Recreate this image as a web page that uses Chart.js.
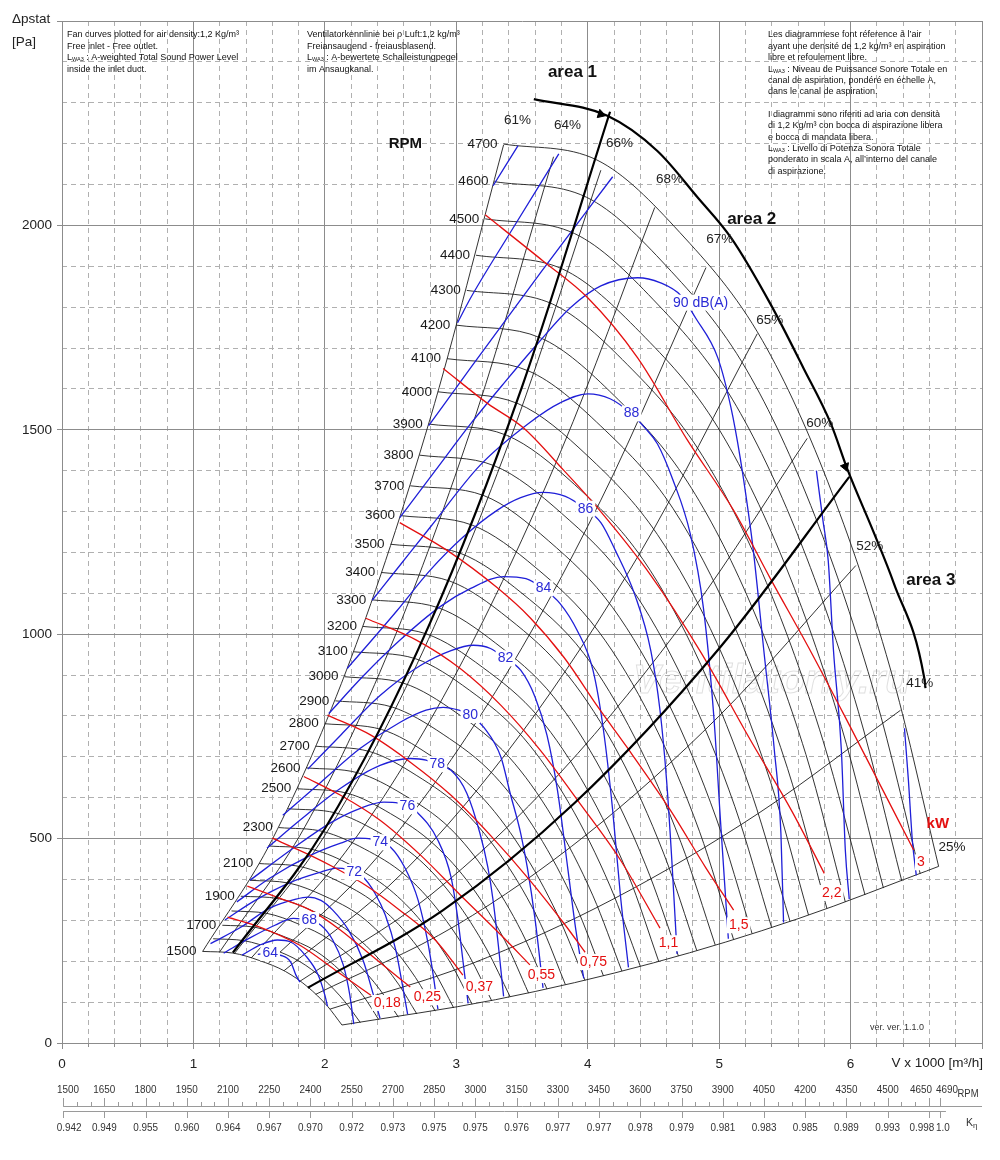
<!DOCTYPE html>
<html><head><meta charset="utf-8">
<script src="https://cdn.jsdelivr.net/npm/chart.js@4.4.1/dist/chart.umd.min.js"></script>
<style>html,body{margin:0;padding:0;background:#fff}canvas{display:block}</style>
</head><body>
<canvas id="c" width="1000" height="1160"></canvas>
<script>
// ---------- axis ticks ----------
const xTicks = [0,1,2,3,4,5,6,7];
const xTickLabels = ['0','1','2','3','4','5','6',''];
const yTicks = [0,500,1000,1500,2000,2500];
const yTickLabels = ['0','500','1000','1500','2000',''];
const rpmTicks = [1500,1650,1800,1950,2100,2250,2400,2550,2700,2850,3000,3150,3300,3450,3600,3750,3900,4050,4200,4350,4500,4650,4690];
const ketaLabels = ['0.942','0.949','0.955','0.960','0.964','0.967','0.970','0.972','0.973','0.975','0.975','0.976','0.977','0.977','0.978','0.979','0.981','0.983','0.985','0.989','0.993','0.998','1.0'];

// ---------- fan curves (V x1000 m3/h, Pa) ----------
const fan1500 = [[1.07,224],[1.30,220],[1.50,202],[1.70,175],[1.87,137],[2.02,90],[2.13,44]];
const fan1600 = [[1.15,255],[1.39,250],[1.60,230],[1.81,199],[1.99,156],[2.15,102],[2.27,50]];
const fan1700 = [[1.22,288],[1.47,283],[1.70,259],[1.93,225],[2.12,176],[2.29,116],[2.41,57]];
const fan1800 = [[1.29,323],[1.56,317],[1.80,291],[2.04,252],[2.24,197],[2.42,130],[2.56,63]];
const fan1900 = [[1.36,359],[1.65,353],[1.90,324],[2.15,281],[2.37,220],[2.56,144],[2.70,71]];
const fan2000 = [[1.43,398],[1.73,391],[2.00,359],[2.27,311],[2.49,244],[2.69,160],[2.84,78]];
const fan2100 = [[1.50,439],[1.82,431],[2.10,396],[2.38,343],[2.62,269],[2.83,176],[2.98,86]];
const fan2200 = [[1.57,482],[1.91,473],[2.20,435],[2.49,376],[2.74,295],[2.96,194],[3.12,95]];
const fan2300 = [[1.65,527],[1.99,517],[2.30,475],[2.61,411],[2.87,322],[3.10,212],[3.27,103]];
const fan2400 = [[1.72,573],[2.08,563],[2.40,517],[2.72,448],[2.99,351],[3.23,230],[3.41,113]];
const fan2500 = [[1.79,622],[2.17,611],[2.50,561],[2.83,486],[3.12,381],[3.37,250],[3.55,122]];
const fan2600 = [[1.86,673],[2.25,661],[2.60,607],[2.95,526],[3.24,412],[3.50,270],[3.69,132]];
const fan2700 = [[1.93,726],[2.34,713],[2.70,654],[3.06,567],[3.37,444],[3.64,292],[3.83,143]];
const fan2800 = [[2.00,781],[2.43,767],[2.80,704],[3.17,610],[3.49,477],[3.77,314],[3.98,153]];
const fan2900 = [[2.08,837],[2.51,822],[2.90,755],[3.29,654],[3.62,512],[3.91,336],[4.12,164]];
const fan3000 = [[2.15,896],[2.60,880],[3.00,808],[3.40,700],[3.74,548],[4.04,360],[4.26,176]];
const fan3100 = [[2.22,957],[2.69,940],[3.10,863],[3.51,747],[3.86,585],[4.17,384],[4.40,188]];
const fan3200 = [[2.29,1019],[2.77,1001],[3.20,919],[3.63,796],[3.99,624],[4.31,410],[4.54,200]];
const fan3300 = [[2.36,1084],[2.86,1065],[3.30,978],[3.74,847],[4.11,663],[4.44,436],[4.69,213]];
const fan3400 = [[2.43,1151],[2.95,1130],[3.40,1038],[3.85,899],[4.24,704],[4.58,462],[4.83,226]];
const fan3500 = [[2.50,1220],[3.03,1198],[3.50,1100],[3.97,953],[4.36,746],[4.71,490],[4.97,240]];
const fan3600 = [[2.58,1290],[3.12,1267],[3.60,1164],[4.08,1008],[4.49,789],[4.85,518],[5.11,253]];
const fan3700 = [[2.65,1363],[3.21,1339],[3.70,1229],[4.19,1065],[4.61,834],[4.98,548],[5.25,268]];
const fan3800 = [[2.72,1438],[3.29,1412],[3.80,1296],[4.31,1123],[4.74,879],[5.12,578],[5.40,282]];
const fan3900 = [[2.79,1514],[3.38,1487],[3.90,1366],[4.42,1183],[4.86,926],[5.25,608],[5.54,297]];
const fan4000 = [[2.86,1593],[3.47,1564],[4.00,1436],[4.53,1244],[4.99,974],[5.39,640],[5.68,313]];
const fan4100 = [[2.93,1674],[3.55,1644],[4.10,1509],[4.65,1307],[5.11,1024],[5.52,672],[5.82,329]];
const fan4200 = [[3.00,1756],[3.64,1725],[4.20,1584],[4.76,1372],[5.24,1074],[5.66,706],[5.96,345]];
const fan4300 = [[3.08,1841],[3.73,1808],[4.30,1660],[4.87,1438],[5.36,1126],[5.79,740],[6.11,362]];
const fan4400 = [[3.15,1927],[3.81,1893],[4.40,1738],[4.99,1506],[5.49,1179],[5.93,774],[6.25,379]];
const fan4500 = [[3.22,2016],[3.90,1980],[4.50,1818],[5.10,1575],[5.61,1233],[6.06,810],[6.39,396]];
const fan4600 = [[3.29,2107],[3.99,2069],[4.60,1900],[5.21,1646],[5.73,1288],[6.19,846],[6.53,414]];
const fan4700 = [[3.36,2199],[4.07,2160],[4.70,1983],[5.33,1718],[5.86,1345],[6.33,884],[6.67,432]];
const rpmValues = [1500,1600,1700,1800,1900,2000,2100,2200,2300,2400,2500,2600,2700,2800,2900,3000,3100,3200,3300,3400,3500,3600,3700,3800,3900,4000,4100,4200,4300,4400,4500,4600,4700];
const fanCurves = [fan1500,fan1600,fan1700,fan1800,fan1900,fan2000,fan2100,fan2200,fan2300,fan2400,fan2500,fan2600,fan2700,fan2800,fan2900,fan3000,fan3100,fan3200,fan3300,fan3400,fan3500,fan3600,fan3700,fan3800,fan3900,fan4000,fan4100,fan4200,fan4300,fan4400,fan4500,fan4600,fan4700];
const rpmLabelValues = [1500,1700,1900,2100,2300,2500,2600,2700,2800,2900,3000,3100,3200,3300,3400,3500,3600,3700,3800,3900,4000,4100,4200,4300,4400,4500,4600,4700];

// ---------- efficiency lines (left edge = 61 %, lower edge = 25 %) ----------
const eff61 = [[1.07,224],[1.60,498],[2.20,942],[2.80,1526],[3.36,2197]];
const eff64 = [[1.20,223],[1.85,530],[2.50,969],[3.15,1538],[3.74,2168]];
const eff66 = [[1.31,218],[2.00,508],[2.70,926],[3.40,1468],[4.10,2135]];
const eff68 = [[1.44,208],[2.20,486],[3.00,905],[3.80,1451],[4.51,2044]];
const eff67 = [[1.57,195],[2.40,455],[3.30,860],[4.10,1328],[4.90,1897]];
const eff65 = [[1.69,177],[2.60,419],[3.50,760],[4.40,1200],[5.29,1735]];
const eff60 = [[1.81,151],[2.80,361],[3.80,664],[4.80,1060],[5.67,1479]];
const eff52 = [[1.93,119],[3.00,288],[4.00,512],[5.00,800],[6.04,1168]];
const eff41 = [[2.04,83],[3.10,192],[4.20,353],[5.30,562],[6.38,814]];
const eff25 = [[2.13,44],[3.30,106],[4.50,196],[5.60,304],[6.67,432]];
const effLines = [eff61,eff64,eff66,eff68,eff67,eff65,eff60,eff52,eff41,eff25];
const effLabels = ['61%','64%','66%','68%','67%','65%','60%','52%','41%','25%'];
const effLabelAt = [[3.465,2256],[3.846,2246],[4.242,2202],[4.623,2114],[5.004,1967],[5.385,1767],[5.766,1515],[6.146,1215],[6.527,880],[6.771,479]];

// ---------- working areas ----------
const area12 = [[1.30,221],[2.00,524],[2.80,1027],[3.50,1605],[4.17,2278]];
const area23 = [[1.87,135],[2.90,325],[3.90,587],[5.00,965],[5.99,1385]];
const areaArc = [[3.59,2309],[4.15,2268],[4.53,2182],[4.84,2067],[5.09,1970],[5.39,1808],[5.64,1652],[5.85,1515],[5.98,1400],[6.18,1246],[6.33,1124],[6.56,894],[6.57,868]];
const arrowPts = [[4.10,2272],[5.96,1410]];
const arrowRot = [107,159];
const areaLabels = ['area 1','area 2','area 3'];
const areaLabelAt = [[3.884,2375],[5.248,2016],[6.611,1131]];

// ---------- sound power dB(A) ----------
const db64 = [[1.49,217],[1.58,220],[1.66,215],[1.74,198],[1.78,166],[1.81,149]];
const db66 = [[1.37,215],[1.51,240],[1.64,252],[1.74,247],[1.85,215],[1.95,166],[2.00,117],[2.02,90]];
const db68 = [[1.23,220],[1.43,257],[1.62,288],[1.76,305],[1.87,301],[1.97,288],[2.06,252],[2.14,191],[2.19,117],[2.22,46]];
const db70 = [[1.13,243],[1.36,283],[1.58,330],[1.78,352],[1.87,357],[1.97,349],[2.06,325],[2.18,276],[2.29,203],[2.37,117],[2.42,60]];
const db72 = [[1.24,301],[1.47,349],[1.74,393],[1.97,418],[2.09,428],[2.17,425],[2.22,418],[2.29,406],[2.38,367],[2.46,313],[2.54,227],[2.59,142],[2.63,70]];
const db74 = [[1.33,345],[1.58,403],[1.89,459],[2.12,489],[2.25,501],[2.35,499],[2.42,491],[2.50,479],[2.61,428],[2.71,349],[2.78,252],[2.83,154],[2.86,83]];
const db76 = [[1.43,398],[1.74,472],[2.04,538],[2.27,574],[2.45,589],[2.56,587],[2.63,579],[2.70,565],[2.86,496],[2.96,406],[3.01,308],[3.05,203],[3.09,97]];
const db78 = [[1.56,477],[1.81,545],[2.12,623],[2.42,679],[2.65,696],[2.77,692],[2.86,679],[2.96,667],[3.08,611],[3.18,513],[3.24,430],[3.28,349],[3.32,239],[3.36,114]];
const db80 = [[1.68,557],[1.97,638],[2.27,721],[2.57,784],[2.77,814],[2.90,821],[3.02,814],[3.11,802],[3.21,772],[3.34,699],[3.41,611],[3.49,513],[3.54,430],[3.60,301],[3.66,135]];
const db82 = [[1.87,670],[2.12,753],[2.42,850],[2.73,924],[2.96,960],[3.13,973],[3.26,965],[3.37,941],[3.49,912],[3.60,846],[3.69,753],[3.77,618],[3.85,423],[3.91,276],[3.97,158]];
const db84 = [[2.03,806],[2.29,897],[2.57,985],[2.88,1068],[3.11,1112],[3.36,1141],[3.53,1136],[3.66,1112],[3.79,1075],[3.92,1009],[4.04,912],[4.12,765],[4.19,569],[4.25,357],[4.31,185]];
const db86 = [[2.17,916],[2.55,1058],[2.80,1156],[3.05,1237],[3.31,1303],[3.49,1334],[3.66,1347],[3.83,1337],[3.98,1307],[4.10,1273],[4.21,1205],[4.36,1095],[4.48,960],[4.55,814],[4.60,643],[4.64,447],[4.68,218]];
const db88 = [[2.36,1083],[2.57,1168],[2.80,1261],[3.18,1413],[3.56,1518],[3.79,1566],[4.00,1588],[4.17,1576],[4.33,1540],[4.44,1503],[4.53,1466],[4.65,1376],[4.78,1246],[4.88,1065],[4.96,797],[5.01,545],[5.07,255]];
const db90 = [[2.57,1285],[2.84,1400],[3.11,1515],[3.36,1613],[3.62,1711],[3.87,1799],[4.10,1852],[4.38,1872],[4.55,1860],[4.71,1828],[4.82,1774],[4.99,1676],[5.09,1554],[5.16,1432],[5.22,1303],[5.26,1205],[5.34,960],[5.42,716],[5.47,513],[5.49,295]];
const db92a = [[2.79,1510],[3.11,1652],[3.64,1884],[4.19,2119]];
const db92b = [[5.74,1400],[5.79,1278],[5.83,1180],[5.87,960],[5.93,716],[5.96,472],[5.99,352]];
const db94a = [[3.01,1762],[3.11,1823],[3.41,1982],[3.78,2175]];
const db94b = [[6.41,770],[6.44,643],[6.47,496],[6.50,410]];
const db96 = [[3.28,2097],[3.47,2195]];
const dbCurves = [db64,db66,db68,db70,db72,db74,db76,db78,db80,db82,db84,db86,db88,db90,db92a,db92b,db94a,db94b,db96];
const dbLabels = ['64','68','72','74','76','78','80','82','84','86','88','90 dB(A)'];
const dbLabelAt = [[1.584,220],[1.881,301],[2.224,418],[2.422,491],[2.628,579],[2.856,682],[3.107,802],[3.374,941],[3.663,1112],[3.983,1307],[4.334,1540],[4.859,1811]];

// ---------- shaft power kW ----------
const kw018 = [[1.26,308],[1.51,283],[1.81,239],[2.08,178],[2.35,117]];
const kw025 = [[1.41,384],[1.66,354],[1.89,325],[2.12,276],[2.35,215],[2.65,137]];
const kw037 = [[1.60,501],[1.89,459],[2.08,428],[2.31,386],[2.57,325],[2.84,252],[3.05,166]];
const kw055 = [[1.84,652],[2.12,606],[2.42,545],[2.73,459],[3.03,362],[3.34,264],[3.56,191]];
const kw075 = [[2.02,802],[2.35,753],[2.65,687],[2.96,606],[3.26,508],[3.56,398],[3.83,288],[3.98,222]];
const kw110 = [[2.31,1039],[2.70,985],[3.03,916],[3.34,826],[3.64,716],[3.95,582],[4.25,447],[4.55,281]];
const kw150 = [[2.57,1273],[2.93,1205],[3.31,1114],[3.56,1041],[3.82,943],[4.08,821],[4.30,723],[4.63,569],[4.90,428],[5.11,325]];
const kw220 = [[2.90,1650],[3.24,1564],[3.51,1505],[3.82,1400],[4.08,1307],[4.48,1144],[4.86,956],[5.24,740],[5.55,569],[5.80,415]];
const kw300 = [[3.22,2026],[3.66,1913],[4.00,1823],[4.38,1676],[4.76,1474],[5.11,1303],[5.39,1136],[5.70,956],[6.00,772],[6.48,472]];
const kwCurves = [kw018,kw025,kw037,kw055,kw075,kw110,kw150,kw220,kw300];
const kwLabels = ['0,18','0,25','0,37','0,55','0,75','1,1','1,5','2,2','3'];
const kwLabelAt = [[2.475,98],[2.780,112],[3.176,137],[3.648,166],[4.044,198],[4.615,244],[5.149,288],[5.857,367],[6.535,442]];

// ---------- texts ----------
const noteEN = ['Fan curves plotted for air density:1,2 Kg/m³','Free inlet - Free outlet.','L_WA3 : A-weighted Total Sound Power Level','inside the inlet duct.'];
const noteDE = ['Ventilatorkennlinie bei ρ Luft:1,2 kg/m³','Freiansaugend - freiausblasend.','L_WA3 : A-bewertete Schalleistungpegel','im Ansaugkanal.'];
const noteFRIT = ['Les diagrammese font réference à l’air','ayant une densité de 1,2 kg/m³ en aspiration','libre et refoulement libre.','L_WA3 : Niveau de Puissance Sonore Totale en','canal de aspiration, pondéré en échelle A,','dans le canal de aspiration.','','I diagrammi sono riferiti ad aria con densità','di 1,2 Kg/m³ con bocca di aspirazione libera','e bocca di mandata libera.','L_WA3 : Livello di Potenza Sonora Totale','ponderato in scala A, all’interno del canale','di aspirazione.'];

// ---------- helpers ----------
const FAM = "'Liberation Sans', Arial, Helvetica, sans-serif";
const F = (s, w) => (w || 'normal') + ' ' + s + 'px ' + FAM;
function txt(ctx, s, x, y, font, color, align, base) {
  ctx.font = font; ctx.fillStyle = color;
  ctx.textAlign = align || 'center'; ctx.textBaseline = base || 'middle';
  ctx.fillText(s, x, y);
}
function boxTxt(ctx, s, x, y, size, color) {
  ctx.font = F(size);
  const w = ctx.measureText(s).width;
  ctx.fillStyle = '#fff';
  ctx.fillRect(x - w / 2 - 2, y - size / 2 - 1, w + 4, size + 2);
  txt(ctx, s, x, y, F(size), color);
}
function condTxt(ctx, s, x, y, size, sx, color) {
  ctx.save(); ctx.translate(x, y); ctx.scale(sx, 1);
  txt(ctx, s, 0, 0, F(size), color); ctx.restore();
}
function note(ctx, x, y, s) {
  ctx.textAlign = 'left'; ctx.textBaseline = 'middle'; ctx.fillStyle = '#111';
  if (s.indexOf('L_WA3') === 0) {
    ctx.font = F(9); ctx.fillText('L', x, y);
    let cx = x + ctx.measureText('L').width;
    ctx.font = F(5.5); ctx.fillText('WA3', cx, y + 2);
    cx += ctx.measureText('WA3').width;
    ctx.font = F(9); ctx.fillText(s.slice(5), cx, y);
  } else { ctx.font = F(9); ctx.fillText(s, x, y); }
}
function seg(ctx, x1, y1, x2, y2) { ctx.beginPath(); ctx.moveTo(x1, y1); ctx.lineTo(x2, y2); ctx.stroke(); }

// ---------- datasets ----------
const BLUE = '#1f1fd8', RED = '#e41010', BLK = '#1c1c1c';
function ln(data, color, width, order) {
  return { type: 'line', data: data, borderColor: color, borderWidth: width, pointRadius: 0,
    fill: false, cubicInterpolationMode: 'monotone', order: order };
}
const datasets = [];
fanCurves.forEach(d => datasets.push(ln(d, BLK, 0.9, 5)));
effLines.forEach(d => datasets.push(ln(d, BLK, 0.9, 4)));
dbCurves.forEach(d => datasets.push(ln(d, BLUE, 1.3, 2)));
kwCurves.forEach(d => datasets.push(ln(d, RED, 1.3, 1)));
[area12, area23, areaArc].forEach(d => datasets.push(ln(d, '#000', 2.2, 0)));
datasets.push({ type: 'line', data: arrowPts, showLine: false, pointStyle: 'triangle', pointRadius: 5,
  pointRotation: arrowRot, pointBackgroundColor: '#000', pointBorderColor: '#000', order: -1 });

// ---------- decoration plugin ----------
const decor = {
  id: 'decor',
  beforeDatasetsDraw(chart) {
    const ctx = chart.ctx, X = v => chart.scales.x.getPixelForValue(v), Y = v => chart.scales.y.getPixelForValue(v);
    ctx.save();
    ctx.font = 'italic bold 41px ' + FAM; ctx.textAlign = 'center'; ctx.textBaseline = 'middle';
    ctx.strokeStyle = 'rgba(150,150,150,0.3)'; ctx.lineWidth = 1;
    ctx.strokeText('Ventilatorry.ru', X(5.4), Y(885));
    ctx.restore();
  },
  afterDatasetsDraw(chart) {
    const ctx = chart.ctx, X = v => chart.scales.x.getPixelForValue(v), Y = v => chart.scales.y.getPixelForValue(v);
    ctx.save();
    rpmLabelValues.forEach(r => {
      const d = fanCurves[rpmValues.indexOf(r)][0];
      txt(ctx, String(r), X(d[0]) - 6, Y(d[1]), F(13.5), '#1a1a1a', 'right');
    });
    effLabels.forEach((s, i) => txt(ctx, s, X(effLabelAt[i][0]), Y(effLabelAt[i][1]), F(13.5), '#222'));
    dbLabels.forEach((s, i) => boxTxt(ctx, s, X(dbLabelAt[i][0]), Y(dbLabelAt[i][1]), 14, '#2b2bd6'));
    kwLabels.forEach((s, i) => boxTxt(ctx, s, X(kwLabelAt[i][0]), Y(kwLabelAt[i][1]), 14, RED));
    areaLabels.forEach((s, i) => txt(ctx, s, X(areaLabelAt[i][0]), Y(areaLabelAt[i][1]), F(17, 'bold'), '#111'));
    txt(ctx, 'RPM', X(2.612), Y(2199), F(15, 'bold'), '#111');
    txt(ctx, 'kW', X(6.664), Y(535), F(15, 'bold'), RED);
    ctx.restore();
  },
  afterDraw(chart) {
    const ctx = chart.ctx, ca = chart.chartArea;
    ctx.save();
    noteEN.forEach((s, i) => note(ctx, 67, 35 + i * 11.4, s));
    noteDE.forEach((s, i) => note(ctx, 307, 35 + i * 11.4, s));
    noteFRIT.forEach((s, i) => { if (s) note(ctx, 768, 35 + i * 11.35, s); });
    txt(ctx, 'Δpstat', 12, 19, F(13.5), '#222', 'left');
    txt(ctx, '[Pa]', 12, 42, F(13.5), '#222', 'left');
    txt(ctx, 'V x 1000 [m³/h]', ca.right + 1, ca.bottom + 20, F(13.5), '#222', 'right');
    txt(ctx, 'ver. ver. 1.1.0', 870, 1028, F(9), '#333', 'left');
    const rs = chart.scales.rpm, ks = chart.scales.keta;
    const yl = rs.bottom - 4, yk = ks.top + 1;
    ctx.strokeStyle = '#9a9a9a'; ctx.lineWidth = 1;
    seg(ctx, rs.getPixelForValue(1500), yl + 0.5, ca.right, yl + 0.5);
    seg(ctx, ks.getPixelForValue(1500), yk + 0.5, ks.getPixelForValue(4690) + 6, yk + 0.5);
    for (let r = 1500; r <= 4650; r += 50) {
      const x = Math.round(rs.getPixelForValue(r)) + 0.5;
      seg(ctx, x, yl, x, yl - (((r - 1500) % 150 === 0) ? 8 : 4));
    }
    rpmTicks.forEach((r, i) => {
      const x = Math.round(rs.getPixelForValue(r)) + 0.5;
      if (r === 4690) seg(ctx, x, yl, x, yl - 8);
      const xk = Math.round(ks.getPixelForValue(r)) + 0.5;
      seg(ctx, xk, yk, xk, yk + 7);
      let sh = 0, shk = 0;
      if (i === 0) { sh = 5; shk = 6; }
      if (r === 4650) { sh = -8; shk = -7; }
      if (r === 4690) { sh = 7; shk = 3; }
      condTxt(ctx, String(r), rs.getPixelForValue(r) + sh, rs.top + 13, 11, 0.9, '#333');
      condTxt(ctx, ketaLabels[i], ks.getPixelForValue(r) + shk, ks.top + 18, 11, 0.9, '#333');
    });
    condTxt(ctx, 'RPM', 968, yl - 12, 10.5, 0.9, '#333');
    txt(ctx, 'K', 966, yk + 12, F(10.5), '#333', 'left');
    txt(ctx, 'η', 973, yk + 15, F(8), '#333', 'left');
    ctx.restore();
  }
};

// ---------- chart ----------
const GRID = '#8c8c8c', MINOR = '#b0b0b0';
new Chart(document.getElementById('c'), {
  type: 'line',
  data: { datasets: datasets },
  plugins: [decor],
  options: {
    responsive: false, animation: false, devicePixelRatio: 1, events: [],
    layout: { padding: { top: 21, right: 18, bottom: 20, left: 0 } },
    plugins: { legend: { display: false }, tooltip: { enabled: false } },
    scales: {
      x: { type: 'linear', position: 'bottom', min: 0, max: 7, weight: 1,
        afterBuildTicks: s => { s.ticks = xTicks.map(v => ({ value: v })); },
        afterFit: s => { s.height = 34; },
        ticks: { autoSkip: false, maxRotation: 0, padding: 7, color: '#222', font: { size: 13.5, family: FAM },
          callback: v => xTickLabels[xTicks.indexOf(v)] },
        grid: { color: GRID, lineWidth: 1, tickLength: 6, tickColor: GRID },
        border: { color: GRID } },
      xMinor: { type: 'linear', position: 'bottom', min: 0, max: 7, weight: 0,
        afterBuildTicks: s => { const t = []; for (let i = 1; i < 35; i++) if (i % 5) t.push({ value: i * 0.2 }); s.ticks = t; },
        afterFit: s => { s.height = 0; },
        ticks: { display: false },
        grid: { color: MINOR, lineWidth: 1, tickLength: 4, tickColor: GRID },
        border: { display: false, dash: [5, 4] } },
      y: { type: 'linear', position: 'left', min: 0, max: 2500, weight: 1,
        afterBuildTicks: s => { s.ticks = yTicks.map(v => ({ value: v })); },
        afterFit: s => { s.width = 62; },
        ticks: { padding: 5, color: '#222', font: { size: 13.5, family: FAM },
          callback: v => yTickLabels[yTicks.indexOf(v)] },
        grid: { color: GRID, lineWidth: 1, tickLength: 5, tickColor: GRID },
        border: { color: GRID } },
      yMinor: { type: 'linear', position: 'left', min: 0, max: 2500, weight: 0,
        afterBuildTicks: s => { const t = []; for (let i = 1; i < 25; i++) if (i % 5) t.push({ value: i * 100 }); s.ticks = t; },
        afterFit: s => { s.width = 0; },
        ticks: { display: false },
        grid: { color: MINOR, lineWidth: 1, drawTicks: false },
        border: { display: false, dash: [5, 4] } },
      rpm: { type: 'linear', position: 'bottom', min: 1496, max: 4843, weight: 2,
        afterFit: s => { s.height = 33; },
        ticks: { display: false }, grid: { display: false }, border: { display: false } },
      keta: { type: 'linear', position: 'bottom', min: 1496, max: 4843, weight: 3,
        afterFit: s => { s.height = 30; },
        ticks: { display: false }, grid: { display: false }, border: { display: false } }
    }
  }
});
</script>
</body></html>
